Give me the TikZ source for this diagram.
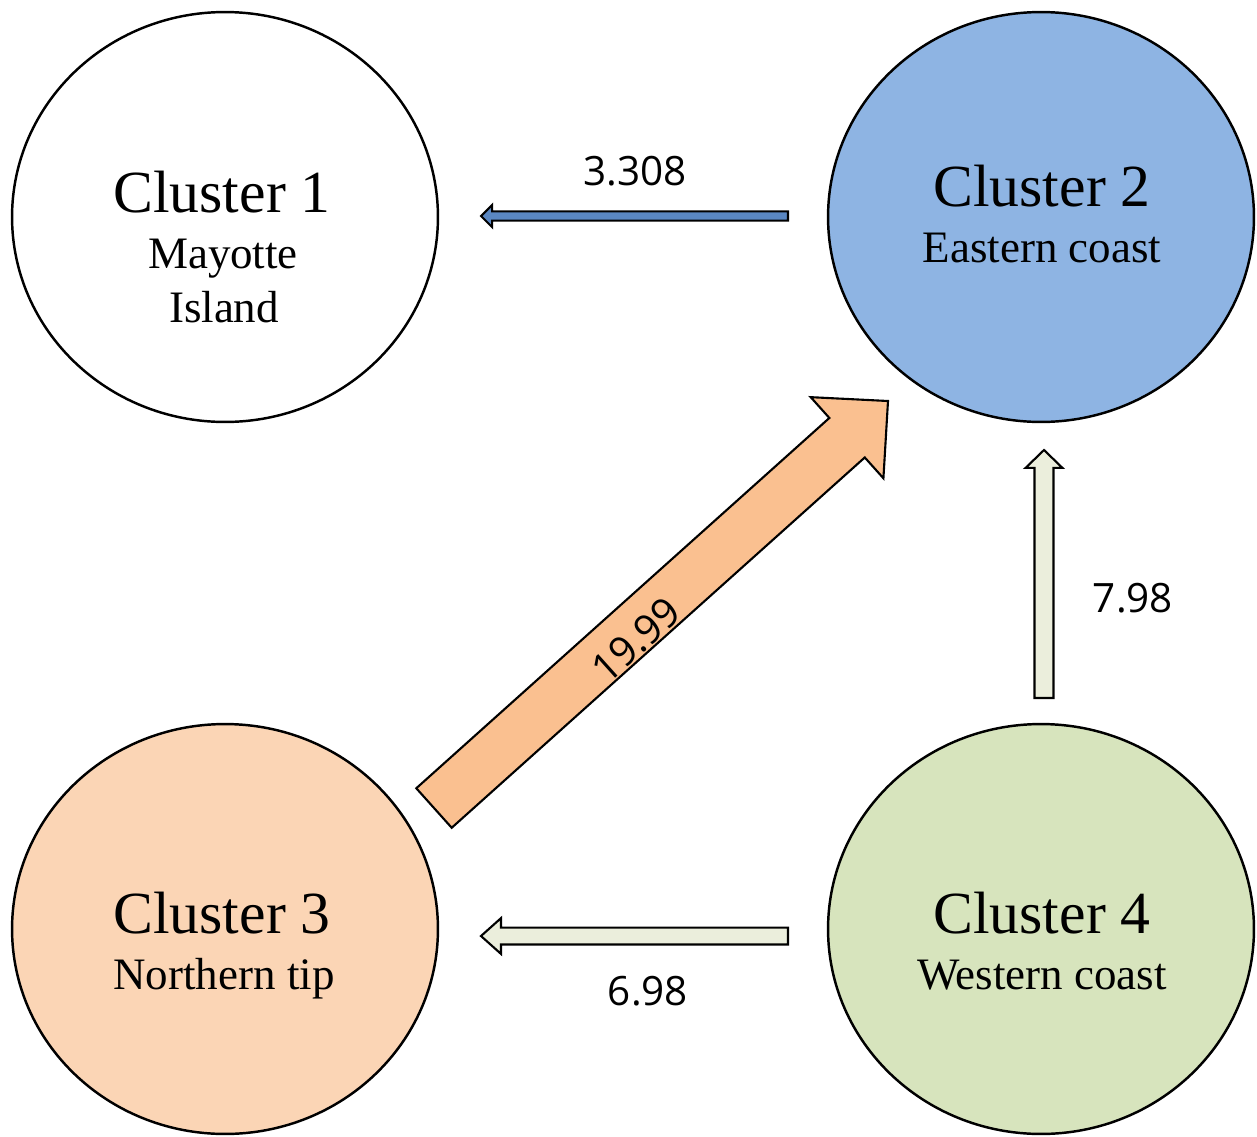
\documentclass[tikz,border=0pt]{standalone}
\usepackage{fontspec}
\setmainfont{Liberation Serif}
\newfontfamily\numfont{Open Sans}
\usepackage{xcolor}
\usepackage{tikz}
\usetikzlibrary{shapes.geometric, calc}
\definecolor{eastblue}{HTML}{8EB4E3}
\definecolor{northpeach}{HTML}{FBD5B5}
\definecolor{westgreen}{HTML}{D7E4BD}
\definecolor{flowblue}{HTML}{5A87C2}
\definecolor{flowpale}{HTML}{EBEEDC}
\definecolor{floworange}{HTML}{FAC090}
\tikzstyle{cluster} = [ellipse, minimum width=8.52cm, minimum height=8.2cm, draw=black, line width=1.4pt]
\tikzstyle{clustertitle} = [anchor=base, inner sep=0pt, font=\fontsize{34}{40}\selectfont]
\tikzstyle{placename} = [anchor=base, inner sep=0pt, font=\fontsize{25.6}{30}\selectfont]
\tikzstyle{flowvalue} = [anchor=base, inner sep=0pt, font=\numfont\fontsize{23}{28}\selectfont]
\tikzstyle{flowarrow} = [draw=black, line width=1.2pt, line join=miter]
% block arrow: style, tail, tip, half shaft, half head, head length
\newcommand{\blockarrow}[6]{%
  \coordinate (ba) at ($(#3)!#6!(#2)$);
  \draw[#1] ($(#2)!#4!90:(#3)$) -- ($(ba)!#4!90:(#3)$) -- ($(ba)!#5!90:(#3)$) -- (#3)
    -- ($(ba)!#5!-90:(#3)$) -- ($(ba)!#4!-90:(#3)$) -- ($(#2)!#4!-90:(#3)$) -- cycle;}

\begin{document}
\begin{tikzpicture}[x=0.02cm, y=-0.02cm]
	\useasboundingbox (0,0) rectangle (1257,1136);

	\node (c1) [cluster, fill=white] at (225,217) {};
	\node (c2) [cluster, fill=eastblue] at (1041,217) {};
	\node (c3) [cluster, fill=northpeach] at (225,929) {};
	\node (c4) [cluster, fill=westgreen] at (1041,929) {};

	\node (t1) [clustertitle] at (222,212) {Cluster 1};
	\node (p1) [placename] at (223,268) {Mayotte};
	\node (p1b) [placename] at (224,322) {Island};
	\node (t2) [clustertitle] at (1042,206) {Cluster 2};
	\node (p2) [placename] at (1042,262) {Eastern coast};
	\node (t3) [clustertitle] at (222,933) {Cluster 3};
	\node (p3) [placename] at (224,989) {Northern tip};
	\node (t4) [clustertitle] at (1042,933) {Cluster 4};
	\node (p4) [placename] at (1042,989) {Western coast};

	\coordinate (a21s) at (788,216);
	\coordinate (a21e) at (481,216);
	\coordinate (a43s) at (788,936);
	\coordinate (a43e) at (481,936);
	\coordinate (a42s) at (1044,698);
	\coordinate (a42e) at (1044,450);
	\coordinate (a32s) at (434,808);
	\coordinate (a32e) at (888,401);

	\blockarrow{flowarrow, fill=flowblue}{a21s}{a21e}{2.6pt}{6.3pt}{6.3pt}
	\blockarrow{flowarrow, fill=flowpale}{a43s}{a43e}{4.8pt}{10.2pt}{11.4pt}
	\blockarrow{flowarrow, fill=flowpale}{a42s}{a42e}{5.4pt}{10.5pt}{10.2pt}
	\blockarrow{flowarrow, fill=floworange}{a32s}{a32e}{15.1pt}{31pt}{31.3pt}

	\node (v21) [flowvalue] at (635,185) {3.308};
	\node (v43) [flowvalue] at (648,1005) {6.98};
	\node (v42) [flowvalue] at (1133,612) {7.98};
	\node (v32) [flowvalue, anchor=center, rotate=41.9] at (636,640) {19.99};
\end{tikzpicture}
\end{document}
